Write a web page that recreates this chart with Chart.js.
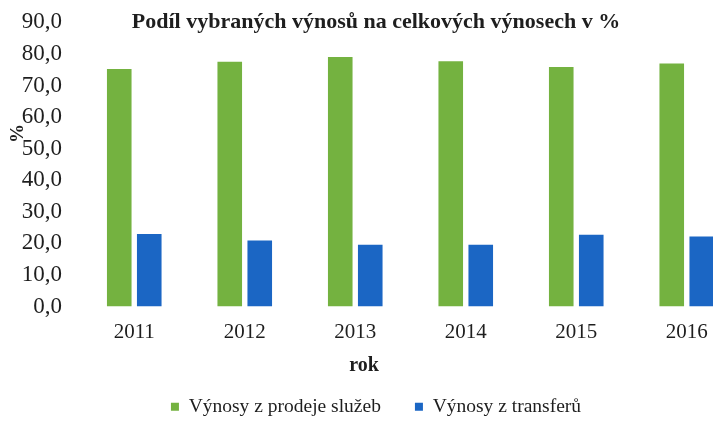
<!DOCTYPE html>
<html>
<head>
<meta charset="utf-8">
<script src="https://cdn.jsdelivr.net/npm/chart.js@4"></script>
<style>
  html, body { margin: 0; padding: 0; background: #ffffff; overflow: hidden; }
  #c { display: block; }
</style>
</head>
<body>
<canvas id="c" width="752" height="421" style="width:752px;height:421px"></canvas>
<script>
// ---- data ----
const years = ['2011', '2012', '2013', '2014', '2015', '2016'];
const vynosySluzby = [75.2, 77.5, 79.0, 77.7, 75.9, 77.0];
const vynosyTransfery = [23.0, 20.9, 19.6, 19.6, 22.7, 22.2];
const seriesNames = ['Výnosy z prodeje služeb', 'Výnosy z transferů'];
const yMin = 0, yMax = 90, yStep = 10;
const titleText = 'Podíl vybraných výnosů na celkových výnosech v %';
const xTitle = 'rok';
const yTitle = '%';

const FONT = '"Liberation Serif", "Times New Roman", serif';
const TXT = '#1e1e1e';

const axisTitles = {
  id: 'axisTitles',
  afterLayout(chart) {
    // legend sits a little lower, partly into the bottom margin
    chart.legend.top += 5.5;
    chart.legend.bottom += 5.5;
  },
  afterDraw(chart) {
    const ctx = chart.ctx;
    const a = chart.chartArea;
    ctx.save();
    ctx.fillStyle = TXT;
    ctx.textAlign = 'center';
    ctx.textBaseline = 'middle';
    ctx.font = 'bold 20px ' + FONT;
    ctx.fillText(xTitle, a.left + 285, a.bottom + 59);
    ctx.translate(18, a.top + 111);
    ctx.rotate(-Math.PI / 2);
    ctx.font = 'bold 19px ' + FONT;
    ctx.fillText(yTitle, 0, 0);
    ctx.restore();
  }
};

new Chart(document.getElementById('c'), {
  type: 'bar',
  data: {
    labels: years,
    datasets: [
      { label: seriesNames[0], data: vynosySluzby, backgroundColor: '#74b240', borderWidth: 0 },
      { label: seriesNames[1], data: vynosyTransfery, backgroundColor: '#1b66c4', borderWidth: 0 }
    ]
  },
  options: {
    responsive: false,
    devicePixelRatio: 1,
    animation: false,
    categoryPercentage: 0.543,
    barPercentage: 0.82,
    layout: { padding: { left: 10, right: 10, top: 0, bottom: 0 } },
    plugins: {
      tooltip: { enabled: false },
      title: {
        display: true,
        text: titleText,
        color: TXT,
        font: { family: FONT, size: 22, weight: 'bold' },
        padding: { top: 9, bottom: -13 }
      },
      legend: {
        position: 'bottom',
        labels: {
          boxWidth: 8,
          boxHeight: 8,
          padding: 34,
          color: TXT,
          font: { family: FONT, size: 19.5 }
        }
      }
    },
    scales: {
      x: {
        grid: { display: false, drawTicks: false },
        border: { display: false },
        ticks: { color: TXT, padding: 13, font: { family: FONT, size: 21 } },
        afterFit(s) { s.height = 51; }
      },
      y: {
        min: yMin,
        max: yMax,
        grid: { display: false, drawTicks: false },
        border: { display: false },
        ticks: {
          stepSize: yStep,
          padding: 17,
          color: TXT,
          font: { family: FONT, size: 23 },
          callback: v => v.toFixed(1).replace('.', ',')
        },
        afterFit(s) { s.width = 69; s.paddingTop = 0; s.paddingBottom = 0; }
      }
    }
  },
  plugins: [axisTitles]
});
</script>
</body>
</html>
